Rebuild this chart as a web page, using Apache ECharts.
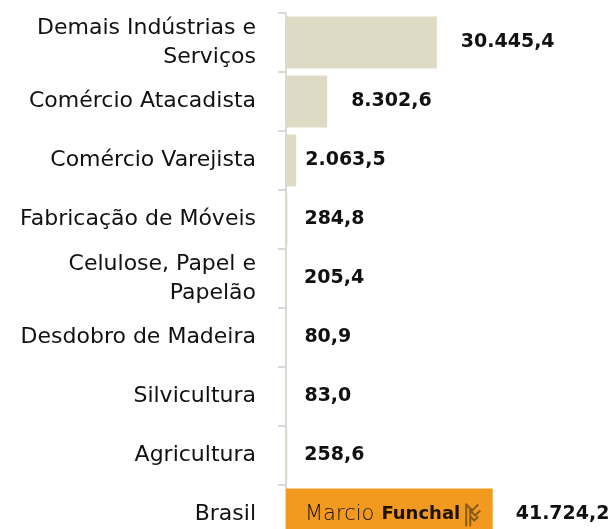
<!DOCTYPE html>
<html><head><meta charset="utf-8">
<script src="https://cdn.jsdelivr.net/npm/echarts@6/dist/echarts.min.js"></script>
<style>html,body{margin:0;padding:0;background:#fff}#c{width:611px;height:529px}</style>
</head><body><div id="c"></div>
<script>
const categories = ["Demais Indústrias e\nServiços","Comércio Atacadista","Comércio Varejista","Fabricação de Móveis","Celulose, Papel e\nPapelão","Desdobro de Madeira","Silvicultura","Agricultura","Brasil"];
const values = [30445.4, 8302.6, 2063.5, 284.8, 205.4, 80.9, 83.0, 258.6, 41724.2];
const valueLabels = ["30.445,4","8.302,6","2.063,5","284,8","205,4","80,9","83,0","258,6","41.724,2"];
const brandText = ["Marcio","Funchal"];

const beige = "#DFDAC3", orange = "#F29A1F";
const labelDist = [24, 24, 9, 17, 17, 18, 18, 17, 23];
const font = "'DejaVu Sans', sans-serif";

const icon = 'data:image/svg+xml;utf8,' + encodeURIComponent(
 '<svg xmlns="http://www.w3.org/2000/svg" width="20" height="24" viewBox="0 0 20 24">' +
 '<g stroke="#8a5a17" stroke-width="2" fill="none">' +
 '<line x1="3" y1="1" x2="3" y2="24"/><line x1="7" y1="6" x2="7" y2="24"/>' +
 '<polyline points="3,2 9,8 15,2"/><polyline points="7,8 12,13 17,8"/><polyline points="7,14 11,18 15,14"/></g></svg>');

const data = values.map((v, i) => ({
  value: v,
  itemStyle: { color: i === values.length - 1 ? orange : beige },
  label: { distance: labelDist[i] }
}));
const brandData = values.map((v, i) => i === values.length - 1 ? v : '-');

const chart = echarts.init(document.getElementById('c'), null, { renderer: 'canvas' });
chart.setOption({
  animation: false,
  grid: { left: 286, width: 322, top: 13, height: 531, containLabel: false, outerBoundsMode: 'none' },
  xAxis: { type: 'value', min: 0, max: 65000, show: false },
  yAxis: {
    type: 'category', data: categories, inverse: true,
    axisLine: { show: true, lineStyle: { color: '#D9D9D9', width: 2 } },
    axisTick: { show: true, length: 8, lineStyle: { color: '#D9D9D9', width: 2 } },
    axisLabel: { margin: 30, color: '#111', fontSize: 22, fontFamily: font, lineHeight: 29, align: 'right', padding: [3, 0, 0, 0] }
  },
  series: [{
    type: 'bar', data: data, barCategoryGap: '12%', barGap: '-100%',
    label: {
      show: true, position: 'right', color: '#111', fontSize: 19, fontWeight: 'bold', fontFamily: font,
      padding: [3, 0, 0, 0],
      formatter: p => valueLabels[p.dataIndex]
    }
  }, {
    type: 'bar', data: brandData, barCategoryGap: '12%', barGap: '-100%',
    itemStyle: { color: 'rgba(0,0,0,0)' }, silent: true,
    label: {
      show: true, position: 'insideLeft', distance: 19,
      formatter: () => '{a|' + brandText[0] + '}{b|' + brandText[1] + '}{c|}',
      rich: {
        a: { fontSize: 21, color: '#1a1006', fontFamily: font, fontWeight: 200, padding: [0, 7, 0, 0] },
        b: { fontSize: 18, color: '#1a1006', fontWeight: 'bold', fontFamily: font, padding: [0, 3, 0, 0] },
        c: { width: 20, height: 24, backgroundColor: { image: icon } }
      }
    }
  }]
});
</script></body></html>
